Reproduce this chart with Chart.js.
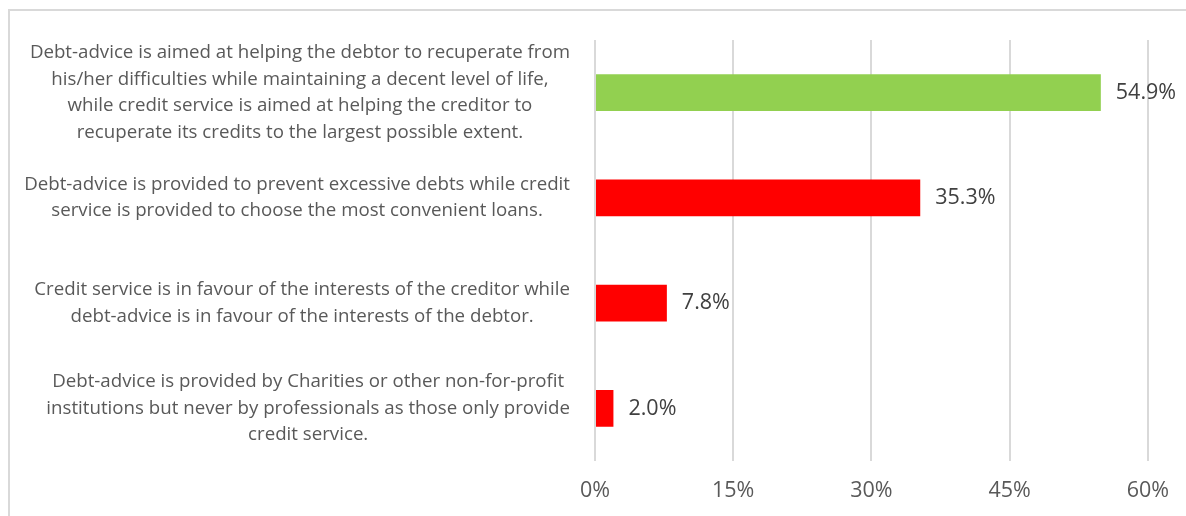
<!DOCTYPE html>
<html>
<head>
<meta charset="utf-8">
<script src="https://cdn.jsdelivr.net/npm/chart.js@4"></script>
<style>
  html, body { margin: 0; padding: 0; background: #fff; }
  #wrap { position: relative; width: 1186px; height: 516px; overflow: hidden; }
  #frame { position: absolute; left: 8px; top: 9px; width: 1300px; height: 700px; border: 2px solid #d9d9d9; }
  #chart { position: absolute; left: 0; top: 0; }
</style>
</head>
<body>
<div id="wrap">
  <div id="frame"></div>
  <canvas id="chart" width="1186" height="516"></canvas>
</div>
<script>
const categories = [
  ["Debt-advice is aimed at helping the debtor to recuperate from",
   "his/her difficulties while maintaining a decent level of life,",
   "while credit service is aimed at helping the creditor to",
   "recuperate its credits to the largest possible extent."],
  ["Debt-advice is provided to prevent excessive debts while credit",
   "service is provided to choose the most convenient loans."],
  ["Credit service is in favour of the interests of the creditor while",
   "debt-advice is in favour of the interests of the debtor."],
  ["Debt-advice is provided by Charities or other non-for-profit",
   "institutions but never by professionals as those only provide",
   "credit service."]
];
const shares = [54.9, 35.3, 7.8, 2.0];
const barColors = ["#92D050", "#FF0000", "#FF0000", "#FF0000"];
const xTicks = [0, 15, 30, 45, 60];

const FONT = "'Open Sans'";
const LABEL_SIZE = 18.7;
const VALUE_SIZE = 21.5;

// category text: each block right-aligned to the axis, lines centred inside it
const categoryLabels = {
  id: "categoryLabels",
  afterDraw(chart) {
    const ctx = chart.ctx;
    const yScale = chart.scales.y;
    const right = chart.chartArea.left - 25;
    const lineH = 26.5;
    ctx.save();
    ctx.font = `${LABEL_SIZE}px ${FONT}`;
    ctx.fillStyle = "#595959";
    ctx.textAlign = "center";
    ctx.textBaseline = "middle";
    categories.forEach((lines, i) => {
      const widest = Math.max(...lines.map(l => ctx.measureText(l).width));
      const cx = right - widest / 2;
      const cy = yScale.getPixelForValue(i);
      const top = cy - (lines.length - 1) * lineH / 2;
      lines.forEach((l, j) => ctx.fillText(l, cx, top + j * lineH));
    });
    ctx.restore();
  }
};

// value text to the right of each bar
const valueLabels = {
  id: "valueLabels",
  afterDatasetsDraw(chart) {
    const ctx = chart.ctx;
    const meta = chart.getDatasetMeta(0);
    ctx.save();
    ctx.font = `${VALUE_SIZE}px ${FONT}`;
    ctx.fillStyle = "#404040";
    ctx.textAlign = "left";
    ctx.textBaseline = "middle";
    meta.data.forEach((bar, i) => {
      ctx.fillText(shares[i].toFixed(1) + "%", bar.x + 15, bar.y);
    });
    ctx.restore();
  }
};

new Chart(document.getElementById("chart"), {
  type: "bar",
  data: {
    labels: categories.map((c, i) => i),
    datasets: [{
      data: shares,
      backgroundColor: barColors,
      categoryPercentage: 1,
      barPercentage: 0.35
    }]
  },
  plugins: [categoryLabels, valueLabels],
  options: {
    indexAxis: "y",
    responsive: false,
    animation: false,
    layout: { padding: { left: 595, right: 37, top: 40, bottom: 0 } },
    plugins: {
      legend: { display: false },
      tooltip: { enabled: false }
    },
    scales: {
      x: {
        min: 0,
        max: 60,
        afterBuildTicks: scale => { scale.ticks = xTicks.map(v => ({ value: v })); },
        afterFit: scale => { scale.height = 55; },
        ticks: {
          callback: v => v + "%",
          color: "#595959",
          padding: 17,
          maxRotation: 0,
          font: { family: "Open Sans", size: VALUE_SIZE }
        },
        grid: { color: "#d9d9d9", lineWidth: 2, drawTicks: false },
        border: { display: false }
      },
      y: {
        display: false
      }
    }
  }
});
</script>
</body>
</html>
